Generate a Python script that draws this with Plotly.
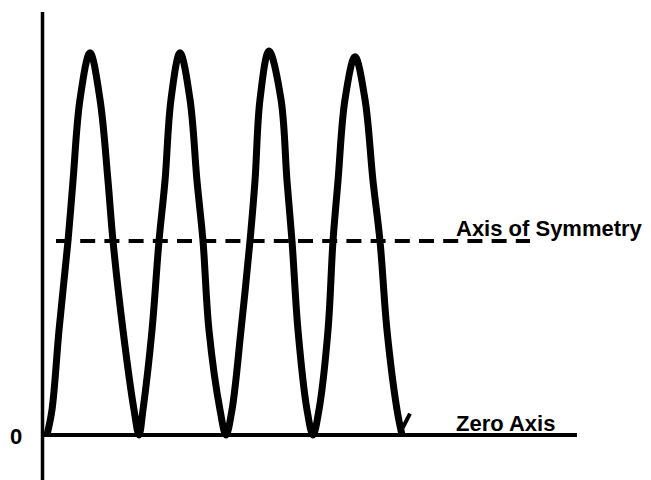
import plotly.graph_objects as go

# Wave samples (x in horizontal units, y in amplitude units;
# zero axis at 0, axis of symmetry at 1)
wave_x = [47, 52, 59, 68, 73, 80, 90, 100, 108, 113, 123, 134, 139,
          143, 152, 159, 165, 171, 180, 190, 197, 203, 209, 220, 226,
          232, 241, 250, 255, 260, 269, 281, 287, 292, 298, 307, 313,
          319, 328, 333, 338, 345, 355, 365, 373, 380, 387, 397, 402]
wave_y = [0.00, 0.13, 0.54, 1.00, 1.31, 1.73, 1.97, 1.73, 1.31, 1.00, 0.54, 0.13, 0.00,
          0.13, 0.54, 1.00, 1.31, 1.73, 1.97, 1.73, 1.31, 1.00, 0.54, 0.13, 0.00,
          0.13, 0.54, 1.00, 1.31, 1.73, 1.98, 1.73, 1.31, 1.00, 0.54, 0.13, 0.00,
          0.13, 0.54, 1.00, 1.31, 1.73, 1.95, 1.73, 1.31, 1.00, 0.54, 0.13, 0.00]

hook_x = [401, 405, 410]
hook_y = [0.02, 0.06, 0.11]

zero_axis_x = [43, 577]
zero_level = 0.0
symmetry_x = [56, 530]
symmetry_level = 1.0
vaxis_x = 42.5
vaxis_y = [-0.30, 2.18]

label_symmetry = "Axis of Symmetry"
label_zero = "Zero Axis"
label_origin = "0"

fig = go.Figure()

# vertical axis
fig.add_trace(go.Scatter(x=[vaxis_x, vaxis_x], y=vaxis_y, mode="lines",
                         line=dict(color="black", width=3.5), hoverinfo="skip"))
# zero axis
fig.add_trace(go.Scatter(x=zero_axis_x, y=[zero_level, zero_level], mode="lines",
                         line=dict(color="black", width=4), hoverinfo="skip"))
# axis of symmetry
fig.add_trace(go.Scatter(x=symmetry_x, y=[symmetry_level, symmetry_level], mode="lines",
                         line=dict(color="black", width=4, dash="15px,9.2px"), hoverinfo="skip"))
# wave
fig.add_trace(go.Scatter(x=wave_x, y=wave_y, mode="lines",
                         line=dict(color="black", width=7, shape="spline", smoothing=1.0),
                         hoverinfo="skip"))
# end hook
fig.add_trace(go.Scatter(x=hook_x, y=hook_y, mode="lines",
                         line=dict(color="black", width=4), hoverinfo="skip"))

font = dict(family="Arial, Liberation Sans, sans-serif", size=22, color="black")
fig.add_annotation(x=454, y=(435 - 228) / 194, xref="x", yref="y", text="<b>%s</b>" % label_symmetry,
                   showarrow=False, xanchor="left", yanchor="middle", font=font)
fig.add_annotation(x=454, y=(435 - 423) / 194, xref="x", yref="y", text="<b>%s</b>" % label_zero,
                   showarrow=False, xanchor="left", yanchor="middle", font=font)
fig.add_annotation(x=8, y=(435 - 436) / 194, xref="x", yref="y", text="<b>%s</b>" % label_origin,
                   showarrow=False, xanchor="left", yanchor="middle", font=font)

fig.update_layout(
    width=651, height=480,
    margin=dict(l=0, r=0, t=0, b=0),
    paper_bgcolor="white", plot_bgcolor="white",
    showlegend=False,
    xaxis=dict(range=[0, 651], visible=False, fixedrange=True),
    yaxis=dict(range=[(435 - 480) / 194, 435 / 194], visible=False, fixedrange=True),
)

fig.write_html("out.html", config={"displayModeBar": False},
               post_script="document.body.style.margin='0';document.body.style.overflow='hidden';")
